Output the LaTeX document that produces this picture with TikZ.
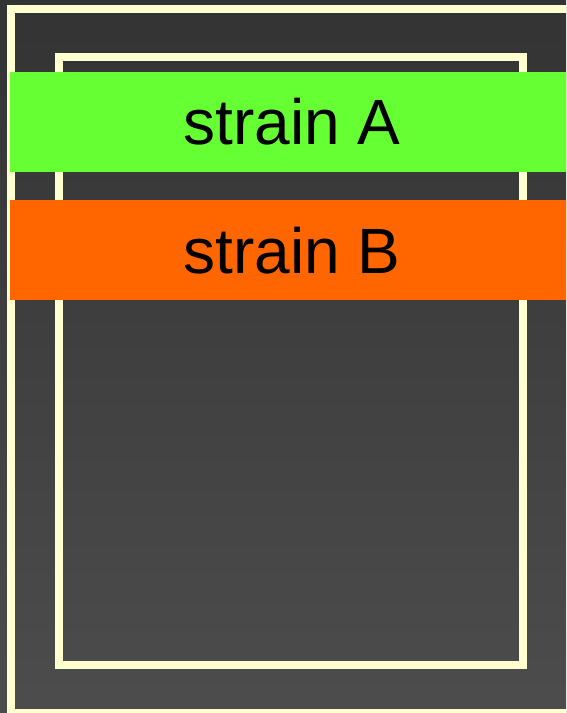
\documentclass[tikz,border=0pt]{standalone}
\usepackage{fontspec}
\setmainfont{Liberation Sans}
\usepackage{tikz}
\usetikzlibrary{positioning}
\definecolor{cream}{HTML}{FFFFD0}
\definecolor{strainA}{HTML}{66FF33}
\definecolor{strainB}{HTML}{FF6600}
\tikzset{
    frame/.style = {
        draw=cream,
        line width=8pt
    },
    strainbar/.style = {
        shape=rectangle,
        inner sep=0pt,
        minimum width=564pt,
        minimum height=100pt,
        font=\fontsize{64}{70}\selectfont,
        text=black
    },
}
\begin{document}
\begin{tikzpicture}[x=1pt,y=-1pt]

        \useasboundingbox (0,0) rectangle (566,713);
        \clip (0,0) rectangle (566,713);
        \shade[top color=black!80, bottom color=black!70] (0,0) rectangle (566,713);

        %frames
        \draw[frame] (11,9) rectangle (600,713);
        \draw[frame] (59,57) rectangle (523,665);

        \node[strainbar, fill=strainA] (sa) at (292,122) {strain A};
        \node[strainbar, fill=strainB, below=28pt of sa] (sb) {strain B};

    \end{tikzpicture}
\end{document}
